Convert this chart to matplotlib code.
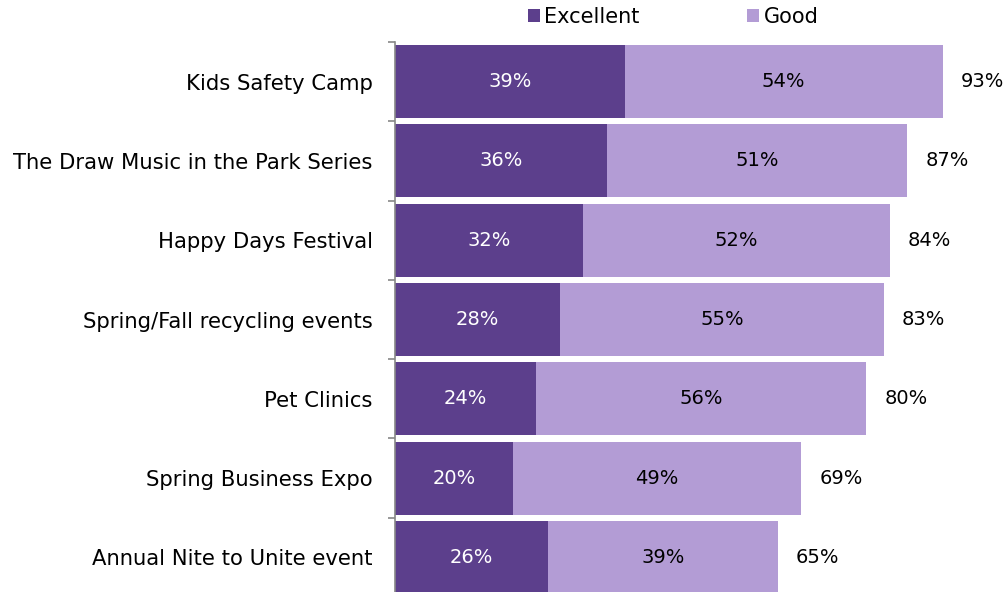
import numpy as np
import matplotlib
matplotlib.use("Agg")
import matplotlib.pyplot as plt

events = ["Kids Safety Camp", "The Draw Music in the Park Series", "Happy Days Festival",
          "Spring/Fall recycling events", "Pet Clinics", "Spring Business Expo",
          "Annual Nite to Unite event"]
excellent = [39, 36, 32, 28, 24, 20, 26]
good = [54, 51, 52, 55, 56, 49, 39]
total = [93, 87, 84, 83, 80, 69, 65]

dark = "#5C3F8C"
light = "#B39CD5"

plt.rcParams['font.family'] = ['DejaVu Sans']

fig = plt.figure(figsize=(10.08, 5.92), dpi=100)
ax = fig.add_axes([395/1008, -5/592, 589/1008, 555/592])

y = np.arange(len(events))
h = 0.92
b1 = ax.barh(y, excellent, height=h, color=dark, label="Excellent")
b2 = ax.barh(y, good, left=excellent, height=h, color=light, label="Good")

for i in range(len(events)):
    ax.text(excellent[i] / 2, y[i], f"{excellent[i]}%", color="white",
            ha="center", va="center", fontsize=14)
    ax.text(excellent[i] + good[i] / 2, y[i], f"{good[i]}%", color="black",
            ha="center", va="center", fontsize=14)
    ax.annotate(f"{total[i]}%", (excellent[i] + good[i], y[i]), xytext=(13, 0),
                textcoords="offset points", ha="left", va="center", fontsize=14)

ax.set_xlim(0, 100)
ax.set_ylim(len(events) - 0.5, -0.5)
ax.set_yticks(y)
ax.set_yticklabels(events, fontsize=15.2)
ax.set_yticks(np.arange(len(events) + 1) - 0.5, minor=True)
ax.tick_params(axis="y", which="major", length=0, pad=16)
ax.tick_params(axis="y", which="minor", length=5, color="#888888", width=1.2)
ax.set_xticks([])
for s in ["top", "right", "bottom"]:
    ax.spines[s].set_visible(False)
ax.spines["left"].set_color("#888888")
ax.spines["left"].set_linewidth(1.2)

fig.legend(handles=[b1, b2], loc="center", bbox_to_anchor=(673/1008, 1 - 17/592),
           ncol=2, frameon=False, fontsize=15, handlelength=0.6, handleheight=0.6,
           handletextpad=0.2, columnspacing=5.15)

fig.savefig("out.png", dpi=100)
